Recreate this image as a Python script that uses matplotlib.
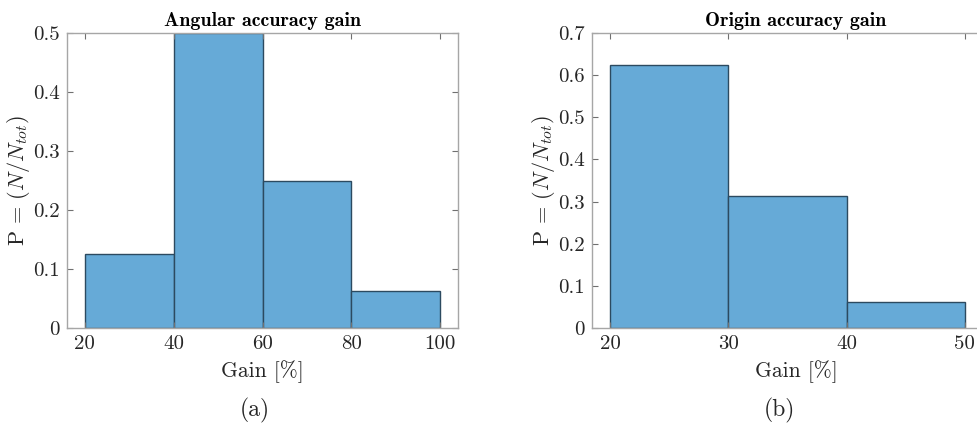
import matplotlib
matplotlib.use("Agg")
import matplotlib.pyplot as plt
import numpy as np

plt.rcParams["font.family"] = "cmr10"
plt.rcParams["mathtext.fontset"] = "cm"
plt.rcParams["axes.formatter.use_mathtext"] = True

# Angular accuracy gain histogram (normalised counts)
ang_edges = [20, 40, 60, 80, 100]
ang_prob = [0.125, 0.5, 0.25, 0.0625]

# Origin accuracy gain histogram (normalised counts)
org_edges = [20, 30, 40, 50]
org_prob = [0.625, 0.3125, 0.0625]

ang_xticks = [20, 40, 60, 80, 100]
ang_yticks = [0, 0.1, 0.2, 0.3, 0.4, 0.5]
org_xticks = [20, 30, 40, 50]
org_yticks = [0, 0.1, 0.2, 0.3, 0.4, 0.5, 0.6, 0.7]

face = "#66aad7"
edge = "#2c4a60"
spine = "#a6a6a6"
txt = "#262626"

W, H = 977, 424
fig = plt.figure(figsize=(W / 100, H / 100), dpi=100)


def px_axes(x0, y0, x1, y1):
    return fig.add_axes([x0 / W, 1 - y1 / H, (x1 - x0) / W, (y1 - y0) / H])


def style(ax, title, xlim, ylim, xticks, yticks, yfmt):
    ax.set_xlim(*xlim)
    ax.set_ylim(*ylim)
    ax.set_xticks(xticks)
    ax.set_yticks(yticks)
    ax.set_xticklabels([str(v) for v in xticks])
    ax.set_yticklabels([yfmt(v) for v in yticks])
    for s in ax.spines.values():
        s.set_color(spine)
        s.set_linewidth(1.0)
    ax.tick_params(direction="in", length=4, width=0.8, color="#707070",
                   top=True, right=True, labelsize=15, labelcolor=txt, pad=5)
    ax.set_title(title, fontsize=14.4, color="black", pad=5,
                 fontfamily="cmb10")
    ax.set_xlabel("Gain [%]", fontsize=15.5, color=txt, labelpad=5)
    ax.set_ylabel(r"$\mathrm{P}\,=\,(N/N_{tot})$", fontsize=16, color=txt,
                  labelpad=1)


def yfmt(v):
    return "0" if v == 0 else f"{v:.1f}"


ax1 = px_axes(67, 33, 458, 328)
ax1.hist(ang_edges[:-1], bins=ang_edges, weights=ang_prob,
         color=face, edgecolor=edge, linewidth=1.0)
style(ax1, "Angular accuracy gain", (16, 104), (0, 0.5),
      ang_xticks, ang_yticks, yfmt)

ax2 = px_axes(592, 33, 1000, 328)
ax2.hist(org_edges[:-1], bins=org_edges, weights=org_prob,
         color=face, edgecolor=edge, linewidth=1.0)
style(ax2, "Origin accuracy gain", (18.48, 52.97), (0, 0.7),
      org_xticks, org_yticks, yfmt)

fig.text(255 / W, 1 - 410 / H, "(a)", ha="center", va="center",
         fontsize=17, color=txt)
fig.text(779 / W, 1 - 410 / H, "(b)", ha="center", va="center",
         fontsize=17, color=txt)

fig.savefig("out.png", dpi=100)
